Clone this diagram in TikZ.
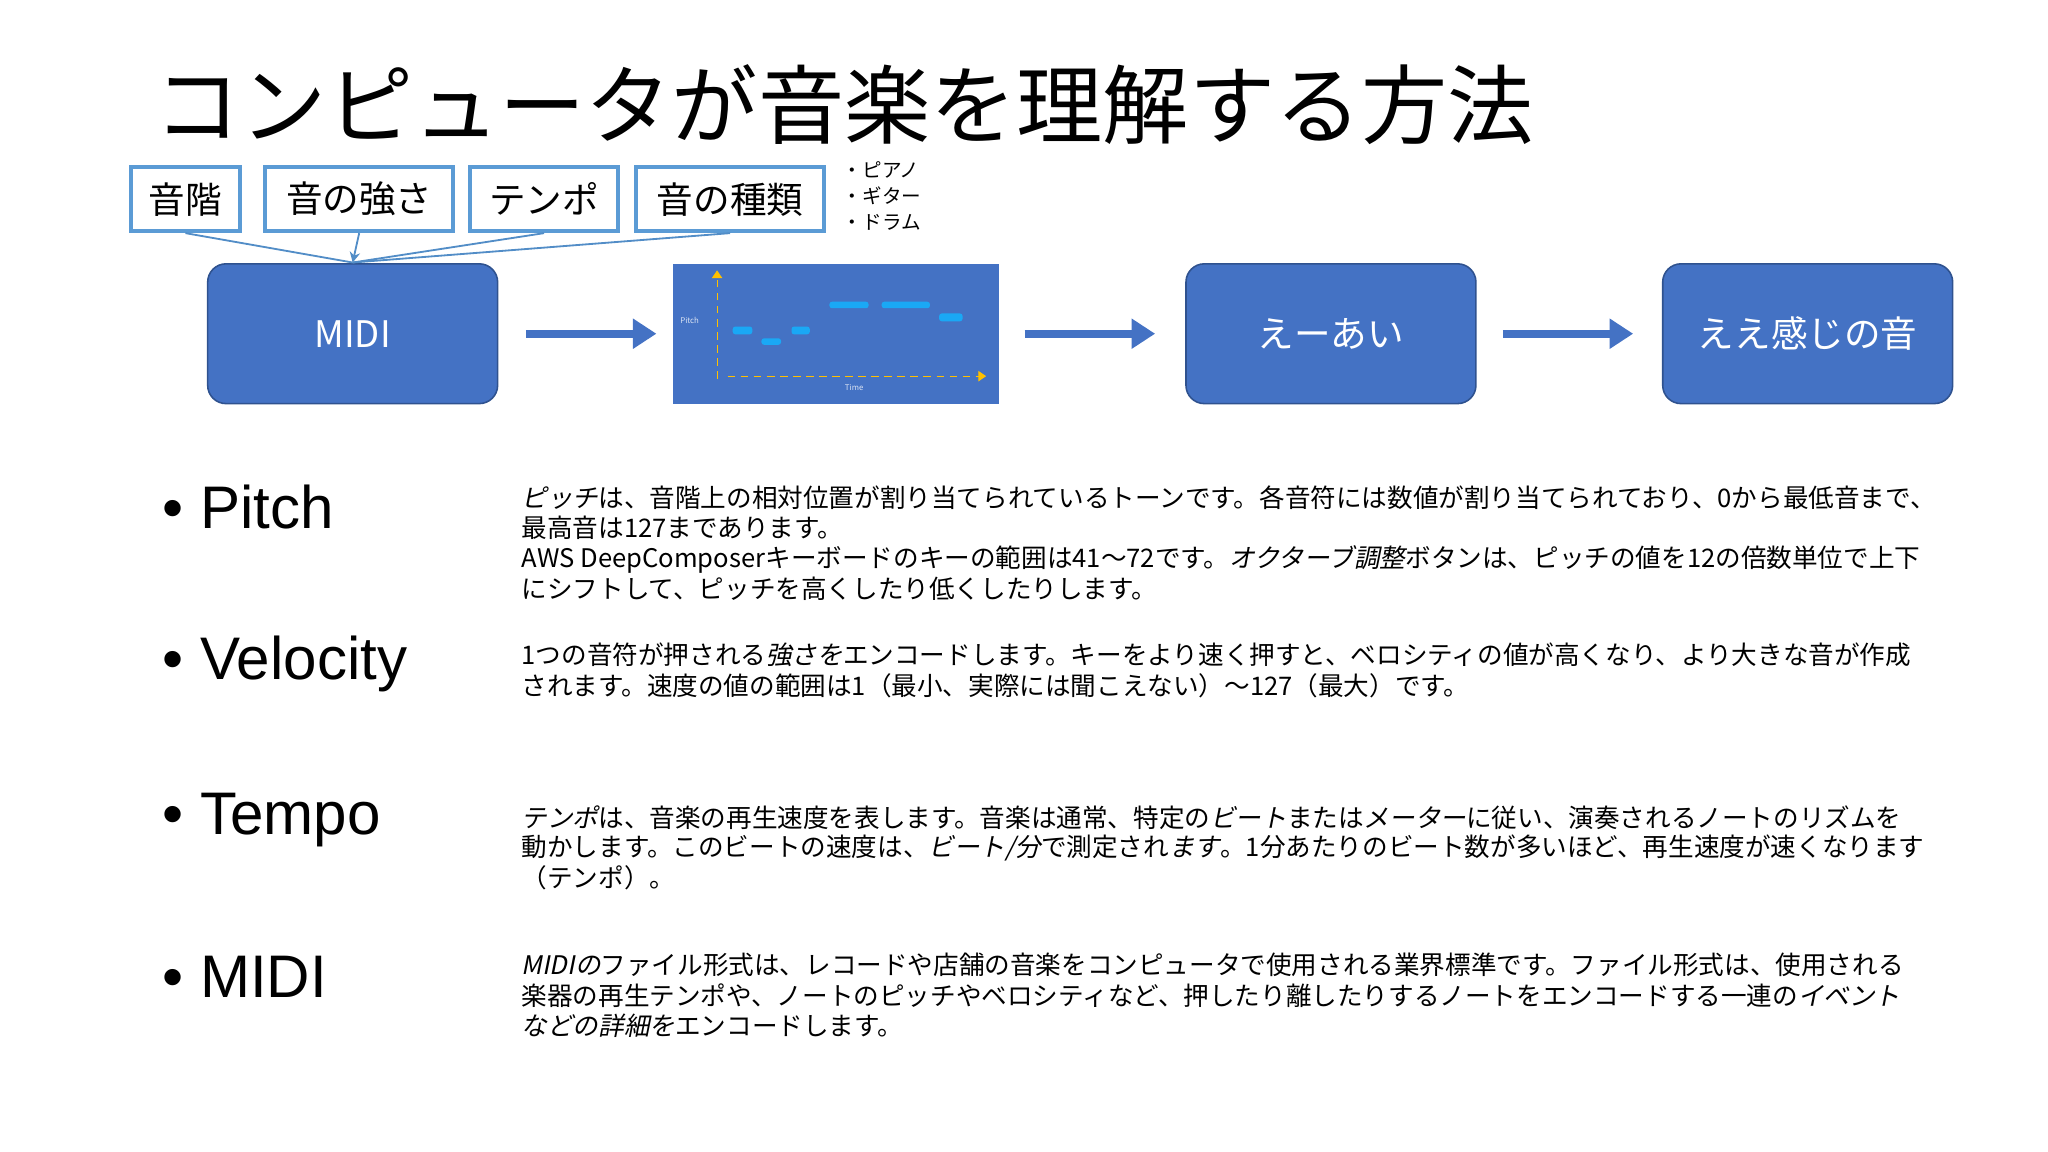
\documentclass[tikz,border=0pt]{standalone}
\usepackage{fontspec}
\setmainfont{Noto Sans CJK JP}
\newfontfamily\jit{Noto Sans CJK JP}[FakeSlant=0.2]
\newfontfamily\lat{Liberation Sans}
\usetikzlibrary{arrows.meta}
\definecolor{mblue}{HTML}{4472C4}
\definecolor{mdark}{HTML}{2F528F}
\definecolor{lblue}{HTML}{5B9BD5}
\definecolor{note}{HTML}{1AA8F5}
\definecolor{ax}{HTML}{FFC000}
\newcommand{\I}[1]{{\jit #1}}
\begin{document}
\begin{tikzpicture}[x=0.5pt,y=-0.5pt,
  tag/.style={draw=lblue,line width=1.5pt,fill=white,inner sep=0pt,minimum height=24.5pt,font=\fontsize{14}{16}\selectfont},
  rbox/.style={draw=mdark,line width=0.6pt,fill=mblue,rounded corners=7pt,inner sep=0pt,text=white,minimum width=111pt,minimum height=53.5pt,font=\fontsize{14}{16}\selectfont},
  flow/.style={mblue,line width=3pt,-{Triangle[length=9pt,width=11pt]}},
  link/.style={lblue!80!mdark,line width=0.7pt},
  body/.style={anchor=west,inner sep=0pt,font=\fontsize{9.8}{11}\selectfont},
  head/.style={anchor=west,inner sep=0pt,font=\lat\fontsize{23}{26}\selectfont},
  nt/.style={fill=note,rounded corners=1pt}]
\useasboundingbox (0,0) rectangle (1568,882);
\node[anchor=west,inner sep=0pt,font=\fontsize{33}{36}\selectfont] (title) at (118,80) {コンピュータが音楽を理解する方法};
% tags
\node[tag,minimum width=42pt] (t1) at (142,152.5) {音階};
\node[tag,minimum width=72pt] (t2) at (275,152.5) {音の強さ};
\node[tag,minimum width=56.5pt] (t3) at (416.5,152.5) {テンポ};
\node[tag,minimum width=72pt] (t4) at (559,152.5) {音の種類};
\node[anchor=north west,inner sep=0pt,align=left,font=\fontsize{7.5}{10}\selectfont] (list) at (645,123) {・ピアノ\\・ギター\\・ドラム};
% row
\node[rbox] (midi) at (270,255.5) {MIDI};
\node[fill=mblue,minimum width=125pt,minimum height=53.5pt,inner sep=0pt] (chart) at (640,255.5) {};
\node[rbox] (ea) at (1019,255.5) {えーあい};
\node[rbox] (good) at (1384,255.5) {ええ感じの音};
\coordinate (mt) at (270,201);
\draw[link] (t1.south) -- (mt);
\draw[link,-{Stealth[length=4pt,width=4pt]}] (t2.south) -- (mt);
\draw[link] (t3.south) -- (mt);
\draw[link] (t4.south) -- (mt);
\draw[flow] ([xshift=10.5pt]midi.east) -- ([xshift=-6pt]chart.west);
\draw[flow] ([xshift=9.5pt]chart.east) -- ([xshift=-11.5pt]ea.west);
\draw[flow] ([xshift=10pt]ea.east) -- ([xshift=-11pt]good.west);
% chart interior
\draw[ax,densely dashed,line width=0.4pt,-{Triangle[length=3pt,width=4pt]}] (549,290) -- (549,207);
\draw[ax,densely dashed,line width=0.4pt,-{Triangle[length=3pt,width=4pt]}] (557,288) -- (755,288);
\node[text=white!80!mblue,font=\fontsize{3}{3}\selectfont,inner sep=0pt] (pl) at (528,245) {Pitch};
\node[text=white!80!mblue,font=\fontsize{3}{3}\selectfont,inner sep=0pt] (tl) at (654,297) {Time};
\fill[nt] (561,250) rectangle (576,256);
\fill[nt] (583,259) rectangle (598,264);
\fill[nt] (606,250) rectangle (620,256);
\fill[nt] (635,231) rectangle (665,236);
\fill[nt] (675,231) rectangle (712,236);
\fill[nt] (719,240) rectangle (737,246);
% bullets
\node[head] (h1) at (124,388) {• Pitch};
\node[head] (h2) at (124,508) {• Velocity};
\node[head] (h3) at (124,628) {• Tempo};
\node[head] (h4) at (124,748) {• MIDI};
\node[body] (p1) at (399,381) {\I{ピッチ}は、音階上の相対位置が割り当てられているトーンです。各音符には数値が割り当てられており、0から最低音まで、};
\node[body] (p2) at (399,404) {最高音は127まであります。};
\node[body] (p3) at (399,428) {AWS DeepComposerキーボードのキーの範囲は41～72です。\I{オクターブ調整}ボタンは、ピッチの値を12の倍数単位で上下};
\node[body] (p4) at (399,451) {にシフトして、ピッチを高くしたり低くしたりします。};
\node[body] (v1) at (399,501) {1つの音符が押される\I{強さを}エンコードします。キーをより速く押すと、ベロシティの値が高くなり、より大きな音が作成};
\node[body] (v2) at (399,525) {されます。速度の値の範囲は1（最小、実際には聞こえない）～127（最大）です。};
\node[body] (e1) at (399,626) {\I{テンポ}は、音楽の再生速度を表します。音楽は通常、特定の\I{ビート}または\I{メーター}に従い、演奏されるノートのリズムを};
\node[body] (e2) at (399,649) {動かします。このビートの速度は、\I{ビート/分}で測定され\I{ます}。1分あたりのビート数が多いほど、再生速度が速くなります};
\node[body] (e3) at (399,672) {（テンポ）。};
\node[body] (m1) at (399,739) {\I{MIDIの}ファイル形式は、レコードや店舗の音楽をコンピュータで使用される業界標準です。ファイル形式は、使用される};
\node[body] (m2) at (399,762) {楽器の再生テンポや、ノートのピッチやベロシティなど、押したり離したりするノートをエンコードする一連の\I{イベント}};
\node[body] (m3) at (399,785) {\I{などの詳細を}エンコードします。};
\end{tikzpicture}
\end{document}
